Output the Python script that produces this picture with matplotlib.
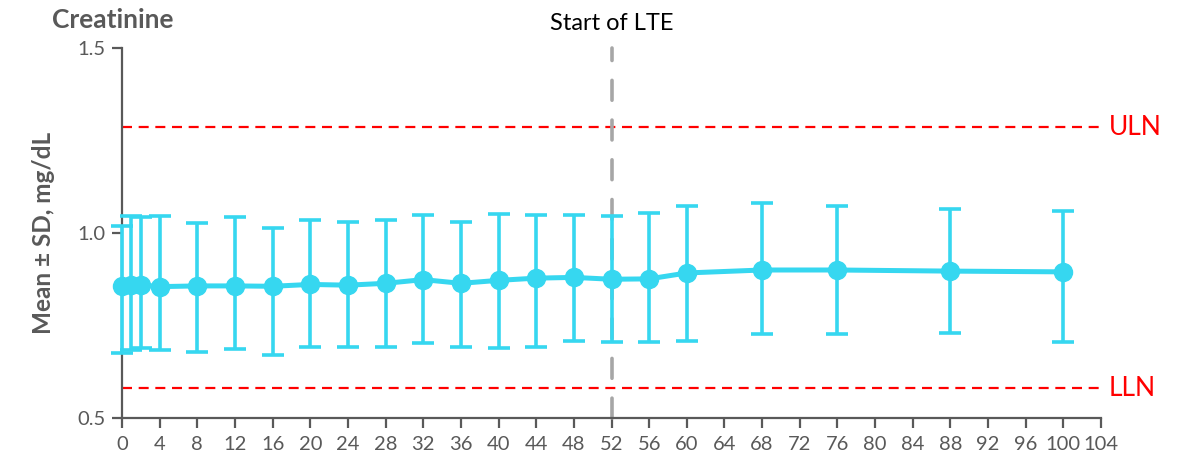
import matplotlib
matplotlib.use("Agg")
import matplotlib.pyplot as plt
import numpy as np

plt.rcParams['font.family'] = ['Lato', 'DejaVu Sans']

# Weeks of treatment
weeks = [0, 1, 2, 4, 8, 12, 16, 20, 24, 28, 32, 36, 40, 44, 48, 52, 56, 60, 68, 76, 88, 100]
# Mean creatinine (mg/dL)
mean_vals = [0.857, 0.860, 0.860, 0.855, 0.857, 0.857, 0.856, 0.861, 0.859, 0.864, 0.874,
             0.864, 0.872, 0.878, 0.880, 0.875, 0.876, 0.892, 0.900, 0.900, 0.897, 0.895]
# Mean + SD
upper_vals = [1.020, 1.046, 1.044, 1.046, 1.027, 1.043, 1.014, 1.035, 1.030, 1.035, 1.049,
              1.030, 1.051, 1.049, 1.049, 1.047, 1.053, 1.073, 1.082, 1.073, 1.066, 1.059]
# Mean - SD
lower_vals = [0.676, 0.684, 0.688, 0.684, 0.678, 0.686, 0.670, 0.692, 0.692, 0.692, 0.703,
              0.692, 0.689, 0.692, 0.708, 0.705, 0.706, 0.709, 0.726, 0.728, 0.731, 0.706]

uln = 1.286
lln = 0.581
lte_start = 52
xticks = list(range(0, 105, 4))
yticks = [0.5, 1.0, 1.5]

cyan = '#36D7F0'
axis_gray = '#595959'

fig = plt.figure(figsize=(11.88, 4.66), dpi=100)
ax = fig.add_axes([122 / 1188, 1 - 418 / 466, (1101 - 122) / 1188, (418 - 48) / 466])

m = np.array(mean_vals)
yerr = [m - np.array(lower_vals), np.array(upper_vals) - m]

ax.axhline(uln, color='#FF0000', lw=1.6, ls=(0, (4.5, 3)), zorder=1)
ax.axhline(lln, color='#FF0000', lw=1.6, ls=(0, (4.5, 3)), zorder=1)
ax.plot([lte_start, lte_start], [0.5, 1.5], color='#A6A6A6', lw=2.6,
        ls=(0, (5.5, 5.5)), solid_capstyle='round', dash_capstyle='round',
        zorder=2, clip_on=False)

ax.errorbar(weeks, mean_vals, yerr=yerr, color=cyan, lw=3.6, marker='o',
            markersize=13, elinewidth=2.6, capsize=8, capthick=2.6, zorder=3,
            clip_on=False)

ax.set_xlim(0, 104)
ax.set_ylim(0.5, 1.5)
ax.set_xticks(xticks)
ax.set_xticklabels([str(t) for t in xticks])
ax.set_yticks(yticks)
ax.set_yticklabels(['0.5', '1.0', '1.5'])

for side in ['top', 'right']:
    ax.spines[side].set_visible(False)
for side in ['left', 'bottom']:
    ax.spines[side].set_color(axis_gray)
    ax.spines[side].set_linewidth(1.6)
ax.tick_params(axis='both', colors=axis_gray, width=1.6, length=7, direction='out',
               labelsize=14.5, labelcolor=axis_gray, pad=5)
ax.tick_params(axis='x', pad=6)

ax.set_ylabel('Mean ± SD, mg/dL', fontsize=17.5, fontweight='bold', color=axis_gray, labelpad=16)

fig.text(52 / 1188, 1 - 20 / 466, 'Creatinine', fontsize=19, fontweight='bold',
         color=axis_gray, ha='left', va='center')
ax.text(lte_start, 1.5 + 25 / 370, 'Start of LTE', fontsize=17, color='black',
        ha='center', va='center', clip_on=False)
ax.text(104.8, uln, 'ULN', fontsize=19, color='#FF0000', ha='left', va='center', clip_on=False)
ax.text(104.8, lln, 'LLN', fontsize=19, color='#FF0000', ha='left', va='center', clip_on=False)

fig.savefig('out.png', dpi=100)
